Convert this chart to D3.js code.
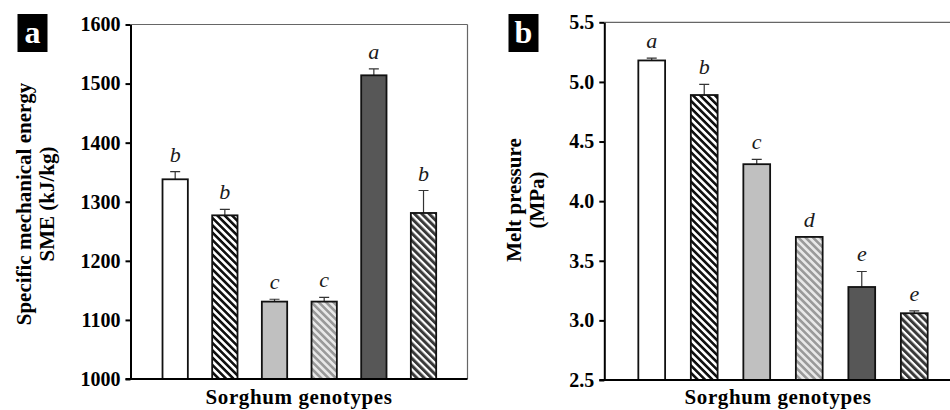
<!DOCTYPE html>
<html>
<head>
<meta charset="utf-8">
<script src="https://cdn.jsdelivr.net/npm/d3@7"></script>
<style>
  html, body { margin: 0; padding: 0; background: #fff; }
  svg { display: block; }
  text { font-family: "Liberation Serif", "DejaVu Serif", serif; }
</style>
</head>
<body>
<svg id="chart" width="950" height="410"></svg>
<script>
// ---- Data ----
const genotypes = ["G1", "G2", "G3", "G4", "G5", "G6"];
const smeValues = [1338, 1277, 1131, 1131, 1514, 1281];
const smeErrors = [13, 10, 4, 7, 11, 38];
const smeLetters = ["b", "b", "c", "c", "a", "b"];
const smeTicks = [1000, 1100, 1200, 1300, 1400, 1500, 1600];

const meltValues = [5.18, 4.89, 4.31, 3.70, 3.28, 3.06];
const meltErrors = [0.02, 0.09, 0.04, 0.0, 0.13, 0.02];
const meltLetters = ["a", "b", "c", "d", "e", "e"];
const meltTicks = [2.5, 3.0, 3.5, 4.0, 4.5, 5.0, 5.5];

// ---- Styles (per genotype) ----
const fills = ["#ffffff", "url(#hatchBlack)", "#c0c0c0", "url(#hatchGray)", "#575757", "url(#hatchDark)"];

const svg = d3.select("#chart");
const defs = svg.append("defs");
function hatch(id, bg, fg, fw) {
  const p = defs.append("pattern")
    .attr("id", id)
    .attr("patternUnits", "userSpaceOnUse")
    .attr("width", 5.2).attr("height", 10)
    .attr("patternTransform", "rotate(-45)");
  p.append("rect").attr("width", 5.2).attr("height", 10).attr("fill", bg);
  p.append("rect").attr("width", fw).attr("height", 10).attr("fill", fg);
}
hatch("hatchBlack", "#ffffff", "#111111", 2.6);
hatch("hatchGray", "#e8e8e8", "#9a9a9a", 2.6);
hatch("hatchDark", "#ffffff", "#3a3a3a", 3.0);

function panel(cfg) {
  const g = svg.append("g");
  const x = d3.scaleBand().domain(genotypes)
    .range(cfg.xRange).paddingInner(0.49).paddingOuter(0.25);
  const y = d3.scaleLinear().domain(cfg.domain).range(cfg.yRange);

  // frame top & right (thin gray)
  g.append("line")
    .attr("x1", cfg.axisX).attr("x2", cfg.rightX)
    .attr("y1", y(cfg.domain[1])).attr("y2", y(cfg.domain[1]))
    .attr("stroke", "#666").attr("stroke-width", 1.2);
  g.append("line")
    .attr("x1", cfg.rightX).attr("x2", cfg.rightX)
    .attr("y1", y(cfg.domain[1])).attr("y2", y(cfg.domain[0]))
    .attr("stroke", "#666").attr("stroke-width", 1.2);

  const bars = genotypes.map((k, i) => ({ k, v: cfg.values[i], e: cfg.errors[i], l: cfg.letters[i], f: fills[i] }));
  // error bars
  g.selectAll(".err").data(bars).enter().append("path")
    .attr("d", d => {
      const cx = x(d.k) + x.bandwidth() / 2;
      const y0 = y(d.v), y1 = y(d.v + d.e);
      return `M${cx},${y0}V${y1}M${cx - 5},${y1}H${cx + 5}`;
    })
    .attr("stroke", "#333").attr("stroke-width", 1.2).attr("fill", "none");
  g.selectAll(".bar").data(bars).enter().append("rect")
    .attr("x", d => x(d.k))
    .attr("width", x.bandwidth())
    .attr("y", d => y(d.v))
    .attr("height", d => y(cfg.domain[0]) - y(d.v))
    .attr("fill", d => d.f)
    .attr("stroke", "#111").attr("stroke-width", 1.8);

  // letters
  g.selectAll(".lbl").data(bars).enter().append("text")
    .attr("x", d => x(d.k) + x.bandwidth() / 2)
    .attr("y", d => y(d.v + d.e) - 10)
    .attr("text-anchor", "middle")
    .attr("font-style", "italic")
    .attr("font-size", 22)
    .attr("fill", "#1a1a1a")
    .text(d => d.l);

  // y axis
  const ya = g.append("g").attr("transform", `translate(${cfg.axisX},0)`)
    .call(d3.axisLeft(y).tickValues(cfg.ticks).tickFormat(cfg.fmt)
      .tickSize(5).tickSizeOuter(0).tickPadding(5));
  ya.select(".domain").attr("stroke", "#000").attr("stroke-width", 2);
  ya.selectAll(".tick line").attr("stroke", "#000").attr("stroke-width", 2);
  ya.selectAll(".tick text")
    .attr("font-family", "Liberation Serif, serif")
    .attr("font-weight", "bold").attr("font-size", 20).attr("fill", "#000");

  // x axis line
  g.append("line")
    .attr("x1", cfg.axisX - 5).attr("x2", cfg.rightX)
    .attr("y1", y(cfg.domain[0])).attr("y2", y(cfg.domain[0]))
    .attr("stroke", "#000").attr("stroke-width", 2);

  // x title
  g.append("text")
    .attr("x", cfg.xTitleX).attr("y", 404)
    .attr("text-anchor", "middle")
    .attr("font-weight", "bold").attr("font-size", 21).attr("letter-spacing", 0.6)
    .text("Sorghum genotypes");

  // y title
  cfg.yTitle.forEach((t, i) => {
    g.append("text")
      .attr("transform", `translate(${cfg.yTitleX[i]},${cfg.yTitleY}) rotate(-90)`)
      .attr("text-anchor", "middle")
      .attr("font-weight", "bold").attr("font-size", 21)
      .text(t);
  });

  // panel tag
  g.append("rect")
    .attr("x", cfg.tag.x).attr("y", 14).attr("width", 30).attr("height", 38)
    .attr("fill", "#000");
  g.append("text")
    .attr("x", cfg.tag.x + 15).attr("y", 43)
    .attr("text-anchor", "middle")
    .attr("font-weight", "bold").attr("font-size", 32).attr("fill", "#fff")
    .text(cfg.tag.t);
}

panel({
  values: smeValues, errors: smeErrors, letters: smeLetters, ticks: smeTicks,
  domain: [1000, 1600], yRange: [379, 24.5], xRange: [150.1, 448.6],
  axisX: 130.5, rightX: 467.5, fmt: d3.format("d"),
  xTitleX: 299, yTitle: ["Specific mechanical energy", "SME (kJ/kg)"],
  yTitleX: [31, 54], yTitleY: 204,
  tag: { x: 17.5, t: "a" }
});

panel({
  values: meltValues, errors: meltErrors, letters: meltLetters, ticks: meltTicks,
  domain: [2.5, 5.5], yRange: [380, 22.3], xRange: [625.2, 940.8],
  axisX: 604.3, rightX: 951, fmt: d3.format(".1f"),
  xTitleX: 778, yTitle: ["Melt pressure", "(MPa)"],
  yTitleX: [521, 544], yTitleY: 200,
  tag: { x: 508.5, t: "b" }
});
</script>
</body>
</html>
